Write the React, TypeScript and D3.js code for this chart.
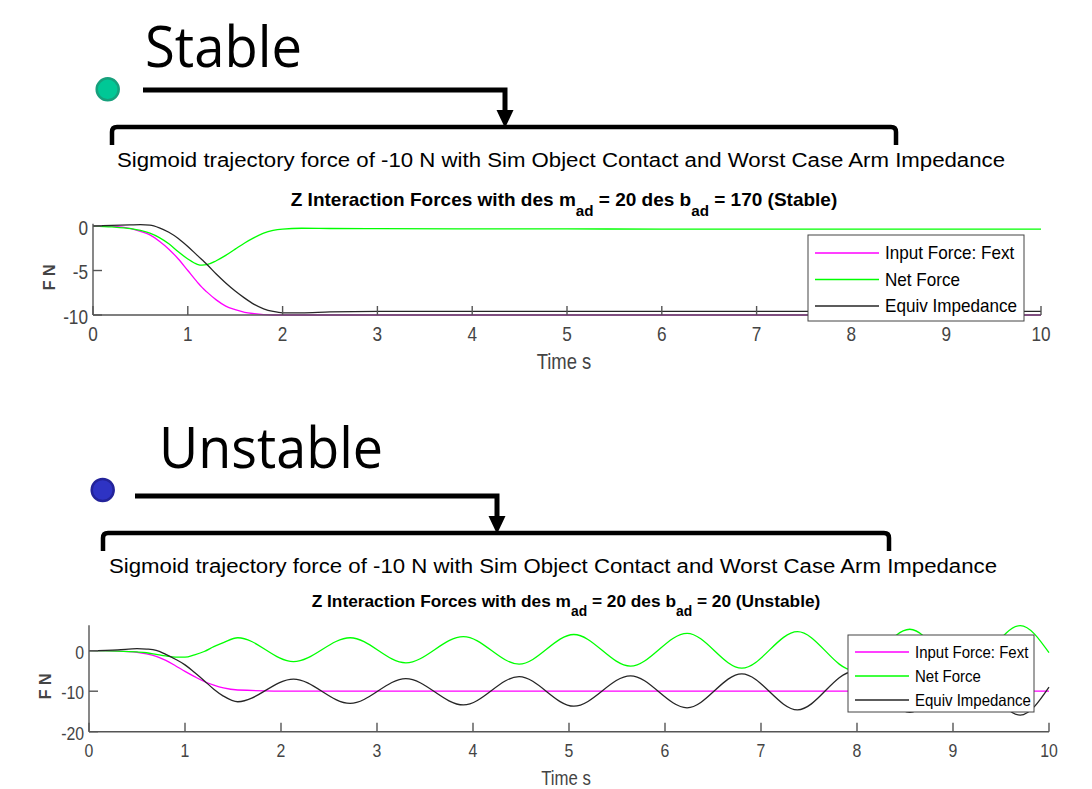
import React from 'react'
import * as d3 from 'd3'

// ---- stable run (des b_ad = 170) ----
const stableTime = [0, 0.2, 0.4, 0.5, 0.6, 0.7, 0.8, 0.9, 1.0, 1.1, 1.15, 1.2, 1.3, 1.4, 1.5, 1.6, 1.7, 1.8, 1.9, 2.0, 2.2, 2.5, 3, 4, 5, 6, 7, 8, 9, 10]
const stableInput = [0, -0.05, -0.3, -0.6, -1.0, -1.7, -2.6, -3.7, -5.0, -6.3, -6.9, -7.4, -8.3, -9.0, -9.4, -9.7, -9.85, -9.95, -10, -10, -10, -10, -10, -10, -10, -10, -10, -10, -10, -10]
const stableNet = [0, -0.1, -0.3, -0.5, -0.8, -1.3, -2.0, -2.9, -3.7, -4.3, -4.4, -4.35, -3.9, -3.3, -2.6, -1.9, -1.3, -0.8, -0.5, -0.35, -0.25, -0.28, -0.3, -0.32, -0.33, -0.34, -0.34, -0.35, -0.35, -0.35]
const stableImp = [0, 0.08, 0.13, 0.15, 0.1, -0.2, -0.7, -1.4, -2.3, -3.3, -3.8, -4.3, -5.4, -6.4, -7.3, -8.1, -8.8, -9.3, -9.6, -9.75, -9.75, -9.65, -9.6, -9.6, -9.6, -9.6, -9.6, -9.6, -9.6, -9.6]
const stableYTicks = [0, -5, -10]

// ---- unstable run (des b_ad = 20) ----
const unstableTime = [0, 0.3, 0.5, 0.6, 0.7, 0.8, 0.9, 1.0, 1.1, 1.2, 1.3, 1.4, 1.55, 2.13, 2.72, 3.3, 3.9, 4.48, 5.05, 5.64, 6.23, 6.8, 7.38, 7.96, 8.55, 9.12, 9.7, 10]
const unstableInput = [0, -0.1, -0.4, -0.8, -1.4, -2.4, -3.7, -5.1, -6.4, -7.6, -8.5, -9.2, -9.7, -10, -10, -10, -10, -10, -10, -10, -10, -10, -10, -10, -10, -10, -10, -10]
const unstableNet = [0, -0.1, -0.3, -0.5, -0.9, -1.3, -1.6, -1.6, -1.0, -0.2, 1.0, 2.0, 3.2, -2.7, 3.2, -3.0, 3.5, -3.3, 4.0, -3.8, 4.3, -4.3, 4.7, -4.8, 5.3, -5.4, 6.2, -0.5]
const unstableImp = [0, 0.2, 0.5, 0.4, 0.1, -0.9, -2.1, -3.5, -5.4, -7.4, -9.5, -11.2, -12.6, -7.0, -13.0, -6.9, -13.4, -6.4, -13.7, -6.2, -14.1, -5.7, -14.6, -5.2, -15.2, -4.7, -15.9, -9.0]
const unstableYTicks = [0, -10, -20]

const timeTicks = [0, 1, 2, 3, 4, 5, 6, 7, 8, 9, 10]
const legendNames = ['Input Force: Fext', 'Net Force', 'Equiv Impedance']
const lineColors = ['#ff00ff', '#00ff00', '#262626']

const sans = "'Liberation Sans', Arial, sans-serif"
const axisGrey = '#444'

// text squeezed horizontally, the figure was exported narrow
function SText({ x, y, k = 1, children, ...rest }) {
  return (
    <text transform={`translate(${x},${y}) scale(${k},1)`} fontFamily={sans} {...rest}>{children}</text>
  )
}

function ForcePlot({ time, series, yDomain, yTicks, x0, x1, yBottom, yTop, bval, tag, titleY, titleFs, legend, fs, k }) {
  const x = d3.scaleLinear().domain([0, 10]).range([x0, x1])
  const y = d3.scaleLinear().domain(yDomain).range([yBottom, yTop])
  const line = d3.line().curve(d3.curveMonotoneX)
  const cx = (x0 + x1) / 2
  const sub = titleFs * 0.8
  const drop = titleFs * 0.5
  return (
    <g>
      {/* title */}
      <text x={cx - 3} y={titleY} textAnchor="middle" fontFamily={sans} fontWeight="bold" fontSize={titleFs} fill="#000">
        Z Interaction Forces with des m<tspan dy={drop} fontSize={sub}>ad</tspan>
        <tspan dy={-drop}> = 20 des b</tspan><tspan dy={drop} fontSize={sub}>ad</tspan>
        <tspan dy={-drop}>{` = ${bval} (${tag})`}</tspan>
      </text>

      {series.map((vals, i) => (
        <path key={i} d={line(time.map((t, j) => [x(t), y(vals[j])]))} fill="none" stroke={lineColors[i]} strokeWidth={1.3} />
      ))}

      {/* axes, ticks inward */}
      <g stroke="#555" strokeWidth={1.4} fill="none">
        <line x1={x0} x2={x1} y1={yBottom} y2={yBottom} />
        <line x1={x0} x2={x0} y1={yBottom} y2={yTop} />
        {timeTicks.map(t => <line key={t} x1={x(t)} x2={x(t)} y1={yBottom} y2={yBottom - 9} />)}
        {yTicks.map(v => <line key={v} x1={x0} x2={x0 + 9} y1={y(v)} y2={y(v)} />)}
      </g>
      <g fill={axisGrey}>
        {timeTicks.map(t => (
          <SText key={t} x={x(t)} y={yBottom + 19} k={k} fontSize={fs} textAnchor="middle" dominantBaseline="central">{t}</SText>
        ))}
        {yTicks.map(v => (
          <SText key={v} x={x0 - 5} y={y(v) + 2} k={k} fontSize={fs} textAnchor="end" dominantBaseline="central">{v}</SText>
        ))}
        <SText x={cx - 3} y={yBottom + 46} k={0.84} fontSize={fs + 2} textAnchor="middle" dominantBaseline="central">Time s</SText>
      </g>
      <text transform={`translate(${x0 - 44},${(yBottom + yTop) / 2 + 8}) rotate(-90)`} textAnchor="middle"
        dominantBaseline="central" fontFamily={sans} fontWeight="bold" fontSize={16} fill={axisGrey}>F N</text>

      {/* legend */}
      <g>
        <rect x={legend.x} y={legend.y} width={legend.w} height={legend.h} fill="#fff" stroke="#444" strokeWidth={1} />
        {legendNames.map((name, i) => {
          const ry = legend.y + legend.rowTop + i * legend.rowGap
          return (
            <g key={name}>
              <line x1={legend.x + 7} x2={legend.x + 7 + legend.sample} y1={ry} y2={ry} stroke={lineColors[i]} strokeWidth={1.3} />
              <SText x={legend.x + 13 + legend.sample} y={ry} k={legend.k} dominantBaseline="central"
                fontSize={legend.fs} fill="#000">{name}</SText>
            </g>
          )
        })}
      </g>
    </g>
  )
}

function Heading({ label, labelX, labelY, labelLen, dot, dotFill, dotStroke, arrowY, arrowX0, arrowX1, bracketY, bracketX0, bracketX1, bracketDrop, sub, subX, subY }) {
  const headTop = bracketY - 17
  return (
    <g>
      <text x={labelX} y={labelY} fontFamily="'Open Sans', Lato, sans-serif" fontSize={57} textLength={labelLen}
        lengthAdjust="spacingAndGlyphs" fill="#000">{label}</text>
      <circle cx={dot[0]} cy={dot[1]} r={11} fill={dotFill} stroke={dotStroke} strokeWidth={2.5} />
      <path d={`M${arrowX0},${arrowY} H${arrowX1} V${headTop + 2}`} fill="none" stroke="#000" strokeWidth={5} />
      <path d={`M${arrowX1 - 8.5},${headTop} L${arrowX1 + 8.5},${headTop} L${arrowX1},${bracketY + 1} Z`} fill="#000" />
      <path d={`M${bracketX0},${bracketY + bracketDrop} V${bracketY + 5} Q${bracketX0},${bracketY} ${bracketX0 + 5},${bracketY} H${bracketX1 - 5} Q${bracketX1},${bracketY} ${bracketX1},${bracketY + 5} V${bracketY + bracketDrop}`}
        fill="none" stroke="#000" strokeWidth={4.5} />
      <text x={subX} y={subY} fontFamily={sans} fontSize={19.5} textLength={888}
        lengthAdjust="spacingAndGlyphs" fill="#000">{sub}</text>
    </g>
  )
}

const subtitle = 'Sigmoid trajectory force of -10 N with Sim Object Contact and Worst Case Arm Impedance'

export default function App() {
  return (
    <svg width={1092} height={789} style={{ position: 'absolute', left: 0, top: 0, background: '#fff' }}>
      <Heading label="Stable" labelX={145} labelY={67} labelLen={157} dot={[107.7, 89.3]} dotFill="#00c896" dotStroke="#16a07c"
        arrowY={90} arrowX0={143} arrowX1={505} bracketY={127} bracketX0={112} bracketX1={896} bracketDrop={18}
        sub={subtitle} subX={117} subY={167} />
      <Heading label="Unstable" labelX={159} labelY={468} labelLen={224} dot={[102.7, 490]} dotFill="#2e33c4" dotStroke="#23239a"
        arrowY={496} arrowX0={135} arrowX1={497} bracketY={533} bracketX0={103} bracketX1={889} bracketDrop={18}
        sub={subtitle} subX={109} subY={573} />

      <ForcePlot time={stableTime} series={[stableInput, stableNet, stableImp]} yDomain={[-10, 0.25]} yTicks={stableYTicks}
        x0={93} x1={1041} yBottom={315} yTop={223.8} bval={170} tag="Stable" titleY={206} titleFs={19} fs={20} k={0.86}
        legend={{ x: 808, y: 235, w: 216, h: 86, rowTop: 18, rowGap: 26.5, sample: 64, fs: 18, k: 0.95 }} />
      <ForcePlot time={unstableTime} series={[unstableInput, unstableNet, unstableImp]} yDomain={[-20, 6.3]} yTicks={unstableYTicks}
        x0={89} x1={1049} yBottom={731.7} yTop={625.2} bval={20} tag="Unstable" titleY={607} titleFs={17.3} fs={18} k={0.88}
        legend={{ x: 848, y: 635, w: 186, h: 77, rowTop: 17, rowGap: 24, sample: 54, fs: 16.3, k: 0.92 }} />
    </svg>
  )
}
